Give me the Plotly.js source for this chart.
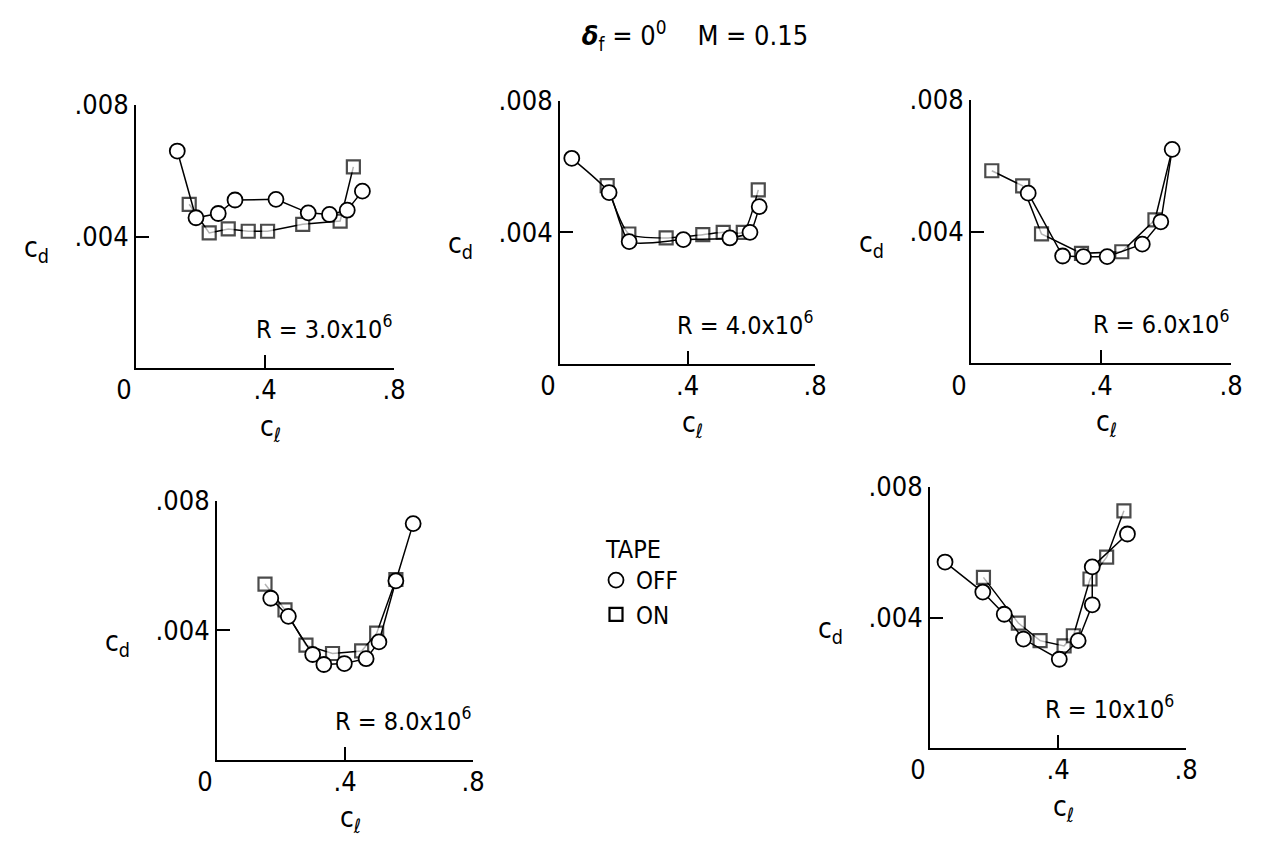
<!DOCTYPE html>
<html>
<head>
<meta charset="utf-8">
<script src="https://cdn.plot.ly/plotly-3.0.1.min.js"></script>
<style>html,body{margin:0;padding:0;background:#fff}#chart{width:1261px;height:843px}</style>
</head>
<body>
<div id="chart"></div>
<script>
// ---- Data ----
// R = 3.0x10^6
const r3_off_cl = [0.128, 0.186, 0.255, 0.307, 0.434, 0.534, 0.600, 0.655, 0.702];
const r3_off_cd = [0.0066, 0.00457, 0.0047, 0.00511, 0.00513, 0.00472, 0.00467, 0.0048, 0.00538];
const r3_on_cl  = [0.165, 0.227, 0.286, 0.348, 0.408, 0.517, 0.633, 0.674];
const r3_on_cd  = [0.00498, 0.00411, 0.00423, 0.00416, 0.00416, 0.00437, 0.00447, 0.00612];
// R = 4.0x10^6
const r4_off_cl = [0.037, 0.154, 0.217, 0.387, 0.533, 0.596, 0.625];
const r4_off_cd = [0.00625, 0.00521, 0.00372, 0.00378, 0.00383, 0.0040, 0.00478];
const r4_on_cl  = [0.148, 0.216, 0.333, 0.448, 0.512, 0.575, 0.622];
const r4_on_cd  = [0.00542, 0.00395, 0.00383, 0.00393, 0.0040, 0.0040, 0.00529];
// R = 6.0x10^6
const r6_off_cl = [0.176, 0.282, 0.346, 0.419, 0.527, 0.584, 0.619];
const r6_off_cd = [0.00517, 0.00326, 0.00324, 0.00324, 0.00362, 0.0043, 0.0065];
const r6_on_cl  = [0.064, 0.159, 0.217, 0.340, 0.464, 0.566, 0.619];
const r6_on_cd  = [0.00585, 0.00539, 0.00393, 0.00334, 0.00339, 0.00436, 0.0065];
// R = 8.0x10^6
const r8_off_cl = [0.168, 0.223, 0.299, 0.334, 0.398, 0.466, 0.506, 0.559, 0.613];
const r8_off_cd = [0.00499, 0.00443, 0.00325, 0.00294, 0.00297, 0.00312, 0.00364, 0.00553, 0.0073];
const r8_on_cl  = [0.150, 0.2125, 0.278, 0.361, 0.452, 0.499, 0.559];
const r8_on_cd  = [0.00543, 0.00463, 0.00354, 0.00328, 0.00336, 0.00391, 0.00557];
// R = 10x10^6
const r10_off_cl = [0.047, 0.165, 0.232, 0.292, 0.404, 0.463, 0.507, 0.507, 0.617];
const r10_off_cd = [0.0057, 0.00478, 0.0041, 0.00334, 0.00272, 0.00329, 0.00439, 0.00555, 0.00656];
const r10_on_cl  = [0.167, 0.276, 0.344, 0.419, 0.448, 0.500, 0.552, 0.606];
const r10_on_cd  = [0.00523, 0.00383, 0.00329, 0.00313, 0.00344, 0.00518, 0.00585, 0.00727];

const rLabels = ['R = 3.0x10<sup>6</sup>', 'R = 4.0x10<sup>6</sup>', 'R = 6.0x10<sup>6</sup>',
                 'R = 8.0x10<sup>6</sup>', 'R = 10x10<sup>6</sup>'];
const xTickVals = [0, 0.4, 0.8];
const xTickText = ['0\u2003', '.4', '.8'];
const yTickVals = [0.004, 0.008];
const yTickText = ['.004', '.008'];
const legendTitle = 'TAPE';
const legendNames = ['OFF', 'ON'];

// ---- Styling ----
const FONT = 'DejaVu Sans Condensed, DejaVu Sans, sans-serif';
const panels = [
  {off: [r3_off_cl, r3_off_cd], on: [r3_on_cl, r3_on_cd], xd: [136/1261, 394/1261], yd: [(843-368)/843, (843-105)/843], shape: 'linear', rx: 0},
  {off: [r4_off_cl, r4_off_cd], on: [r4_on_cl, r4_on_cd], xd: [560/1261, 815/1261], yd: [(843-364)/843, (843-100.7)/843], shape: 'spline', rx: 0},
  {off: [r6_off_cl, r6_off_cd], on: [r6_on_cl, r6_on_cd], xd: [971/1261, 1231/1261], yd: [(843-363.3)/843, (843-100)/843], shape: 'linear', rx: 0},
  {off: [r8_off_cl, r8_off_cd], on: [r8_on_cl, r8_on_cd], xd: [217/1261, 473/1261], yd: [(843-759.5)/843, (843-501)/843], shape: 'linear', rx: 0},
  {off: [r10_off_cl, r10_off_cd], on: [r10_on_cl, r10_on_cd], xd: [930/1261, 1186/1261], yd: [(843-748)/843, (843-487)/843], shape: 'linear', rx: -10}
];

const traces = [];
const layout = {
  width: 1261, height: 843,
  margin: {l: 0, r: 0, t: 0, b: 0},
  paper_bgcolor: '#fff', plot_bgcolor: 'rgba(0,0,0,0)',
  font: {family: FONT, size: 25, color: '#000'},
  showlegend: true,
  legend: {
    x: 596/1261, y: (843-558)/843, xanchor: 'left', yanchor: 'top',
    bgcolor: 'rgba(0,0,0,0)', borderwidth: 0,
    font: {family: FONT, size: 24, color: '#000'},
    tracegroupgap: 0, itemclick: false
  },
  title: {
    text: '<b><i>δ</i></b><sub>f</sub> = 0<sup>0</sup>    M = 0.15',
    x: 695/1261, xanchor: 'center', y: 1 - 36/843, yanchor: 'middle',
    font: {family: FONT, size: 27, color: '#000'}
  },
  annotations: [{
    text: legendTitle, xref: 'paper', yref: 'paper', x: 633/1261, y: 1 - 549/843,
    xanchor: 'center', yanchor: 'middle', showarrow: false, font: {family: FONT, size: 25}
  }]
};

const markerOff = {symbol: 'circle', size: 15, color: '#fff', line: {color: '#000', width: 1.8}};
const markerOn  = {symbol: 'square', size: 13, color: '#fff', line: {color: '#000', width: 2.2}};

panels.forEach((p, i) => {
  const n = i + 1;
  const xa = n === 1 ? 'x' : 'x' + n;
  const ya = n === 1 ? 'y' : 'y' + n;
  const onSizes = p.on[0].map((v, k) => (i === 2 && k === p.on[0].length - 1) ? 0 : 13);
  traces.push({
    x: p.on[0], y: p.on[1], xaxis: xa, yaxis: ya, type: 'scatter', mode: 'lines+markers',
    line: {color: '#000', width: 1.5, shape: p.shape, smoothing: 0.6},
    marker: Object.assign({}, markerOn, {size: onSizes}), showlegend: false, cliponaxis: false, hoverinfo: 'skip'
  });
  traces.push({
    x: p.off[0], y: p.off[1], xaxis: xa, yaxis: ya, type: 'scatter', mode: 'lines+markers',
    line: {color: '#000', width: 1.5, shape: p.shape, smoothing: 0.6},
    marker: markerOff, showlegend: false, cliponaxis: false, hoverinfo: 'skip'
  });
  const axCommon = {
    showgrid: false, zeroline: false, showline: true, linecolor: '#000', linewidth: 2,
    ticks: 'inside', tickcolor: '#000', tickwidth: 2, ticklen: 13,
    tickfont: {family: FONT, size: 27, color: '#000'}, fixedrange: true
  };
  layout['xaxis' + (n === 1 ? '' : n)] = Object.assign({}, axCommon, {
    domain: p.xd, range: [0, 0.8], anchor: ya, tickmode: 'array', tickvals: xTickVals, ticktext: xTickText,
    ticklabelstandoff: -3
  });
  layout['yaxis' + (n === 1 ? '' : n)] = Object.assign({}, axCommon, {
    domain: p.yd, range: [0, 0.008], anchor: xa, tickmode: 'array', tickvals: yTickVals, ticktext: yTickText
  });
  const xr = xa + ' domain', yr = ya + ' domain';
  layout.annotations.push({
    text: 'c<sub>d</sub>', xref: xr, yref: yr, x: 0, y: 0.45, xshift: -100,
    xanchor: 'center', yanchor: 'middle', showarrow: false, font: {family: FONT, size: 28}
  });
  layout.annotations.push({
    text: 'c<sub>ℓ</sub>', xref: xr, yref: yr, x: 0.5, y: 0, xshift: 5, yshift: -60,
    xanchor: 'center', yanchor: 'middle', showarrow: false, font: {family: FONT, size: 28}
  });
  layout.annotations.push({
    text: rLabels[i], xref: xr, yref: yr, x: 1, y: 0, xshift: p.rx, yshift: 22,
    xanchor: 'right', yanchor: 'bottom', showarrow: false, font: {family: FONT, size: 25}
  });
});

// legend entries (marker-only keys)
traces.push({x: [null], y: [null], type: 'scatter', mode: 'markers', name: legendNames[0], marker: markerOff, showlegend: true, hoverinfo: 'skip'});
traces.push({x: [null], y: [null], type: 'scatter', mode: 'markers', name: legendNames[1], marker: markerOn, showlegend: true, hoverinfo: 'skip'});

Plotly.newPlot('chart', traces, layout, {staticPlot: true, displayModeBar: false});
</script>
</body>
</html>
